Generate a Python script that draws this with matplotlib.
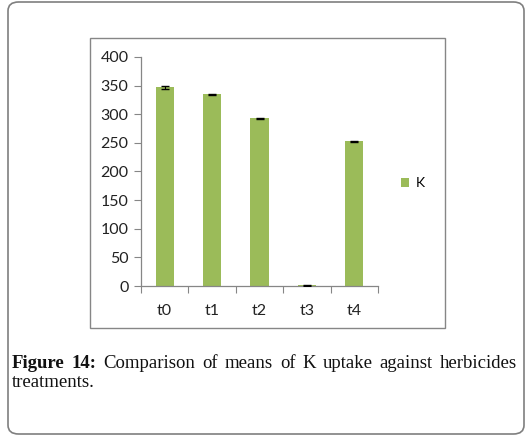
import matplotlib
matplotlib.use('Agg')
import matplotlib.pyplot as plt
from matplotlib.patches import FancyBboxPatch, Rectangle

# data
treatments = ['t0', 't1', 't2', 't3', 't4']
k_means = [347, 335, 293, 1, 253]
k_err = [3, 1, 1, 0.5, 1]
y_ticks = [0, 50, 100, 150, 200, 250, 300, 350, 400]

W, H = 528, 442
GREEN = '#9bbb59'
GREY = '#868686'

fig = plt.figure(figsize=(W / 100, H / 100), dpi=100)


def px(x0, y0, x1, y1):
    """pixel box (top-left origin) -> figure fraction rect"""
    return [x0 / W, 1 - y1 / H, (x1 - x0) / W, (y1 - y0) / H]


# outer rounded frame
outer = FancyBboxPatch((8 / W, 1 - 434 / H), 516 / W, 432 / H,
                       boxstyle='round,pad=0,rounding_size=0.02',
                       transform=fig.transFigure, fill=False,
                       edgecolor='#7f7f7f', linewidth=1.2)
fig.patches.append(outer)

# chart frame
frame = Rectangle((90 / W, 1 - 328 / H), 355 / W, 290 / H,
                  transform=fig.transFigure, fill=False,
                  edgecolor=GREY, linewidth=1.0)
fig.patches.append(frame)

ax = fig.add_axes(px(141, 57, 378, 286))
x = range(len(treatments))
ax.bar(x, k_means, width=0.38, color=GREEN, label='K', zorder=2)
ax.errorbar(x, k_means, yerr=k_err, fmt='none', ecolor='black',
            elinewidth=0.8, capsize=3, capthick=1.0, zorder=3)

ax.set_xlim(-0.5, len(treatments) - 0.5)
ax.set_ylim(0, 400)
ax.set_yticks(y_ticks)
ax.set_xticks(list(x))
ax.set_xticklabels(treatments)
ax.set_xticks([i - 0.5 for i in range(len(treatments) + 1)], minor=True)
ax.tick_params(axis='x', which='major', length=0, pad=13)
ax.tick_params(axis='x', which='minor', length=5, color=GREY, width=0.8)
ax.tick_params(axis='y', length=5, color=GREY, width=0.8, pad=4)
for lab in ax.get_xticklabels() + ax.get_yticklabels():
    lab.set_fontfamily('Lato')
    lab.set_fontsize(11.5)
    lab.set_color('#222222')
for s in ['top', 'right']:
    ax.spines[s].set_visible(False)
for s in ['left', 'bottom']:
    ax.spines[s].set_color(GREY)
    ax.spines[s].set_linewidth(0.9)

fig.legend(loc='center left', bbox_to_anchor=(388 / W, 1 - 183 / H),
           frameon=False, handlelength=0.6, handleheight=0.6,
           handletextpad=0.5, prop={'family': 'Lato', 'size': 10})

# caption, justified on the first line
line1 = ['Figure', '14:', 'Comparison', 'of', 'means', 'of', 'K', 'uptake',
         'against', 'herbicides']
bold = {'Figure', '14:'}
left, right = 12, 517
y1 = 1 - 368 / H
fig.canvas.draw()
r = fig.canvas.get_renderer()
texts = []
for w in line1:
    t = fig.text(0, y1, w, fontsize=13.5, family='Liberation Serif',
                 fontweight='bold' if w in bold else 'normal',
                 va='baseline', ha='left', color='#111111')
    texts.append(t)
widths = [t.get_window_extent(r).width for t in texts]
gap = ((right - left) - sum(widths)) / (len(texts) - 1)
xpos = left
for t, wd in zip(texts, widths):
    t.set_x(xpos / W)
    xpos += wd + gap
fig.text(left / W, 1 - 387 / H, 'treatments.', fontsize=13.5,
         family='Liberation Serif', va='baseline', ha='left',
         color='#111111')

fig.savefig('out.png', dpi=100)
